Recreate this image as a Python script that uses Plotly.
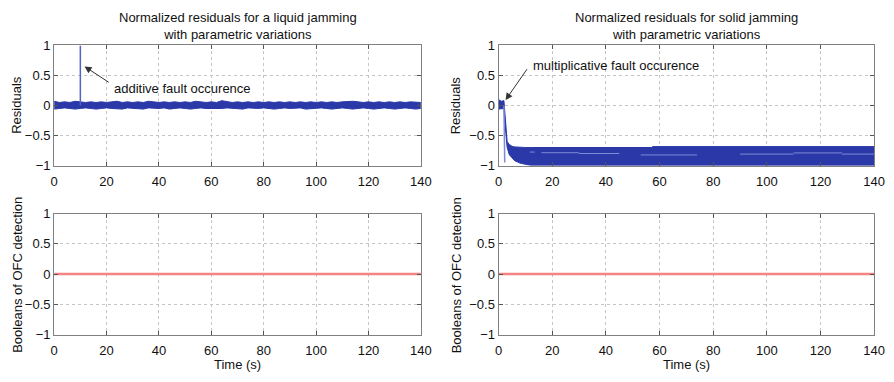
import plotly.graph_objects as go

# ---------------- data ----------------
time_range = [0, 140]

# liquid jamming: residual noise band envelope (sampled every 2 s)
liq_x = [0, 2, 4, 6, 8, 10, 12, 14, 16, 18,
         20, 22, 24, 26, 28, 30, 32, 34, 36, 38,
         40, 42, 44, 46, 48, 50, 52, 54, 56, 58,
         60, 62, 64, 66, 68, 70, 72, 74, 76, 78,
         80, 82, 84, 86, 88, 90, 92, 94, 96, 98,
         100, 102, 104, 106, 108, 110, 112, 114, 116, 118,
         120, 122, 124, 126, 128, 130, 132, 134, 136, 138,
         140]
liq_upper = [0.07, 0.05, 0.06, 0.05, 0.07, 0.06, 0.05, 0.06, 0.05, 0.06,
             0.05, 0.06, 0.07, 0.05, 0.06, 0.05, 0.06, 0.05, 0.07, 0.06,
             0.05, 0.06, 0.05, 0.06, 0.05, 0.06, 0.05, 0.07, 0.06, 0.05,
             0.06, 0.05, 0.08, 0.06, 0.05, 0.06, 0.05, 0.06, 0.05, 0.06,
             0.05, 0.06, 0.05, 0.06, 0.05, 0.06, 0.05, 0.06, 0.05, 0.06,
             0.05, 0.06, 0.05, 0.06, 0.05, 0.06, 0.07, 0.07, 0.06, 0.05,
             0.06, 0.05, 0.06, 0.05, 0.06, 0.05, 0.06, 0.05, 0.06, 0.05,
             0.05]
liq_lower = [-0.06, -0.05, -0.04, -0.05, -0.06, -0.05, -0.04, -0.05, -0.06, -0.05,
             -0.04, -0.05, -0.05, -0.06, -0.04, -0.05, -0.05, -0.06, -0.04, -0.05,
             -0.05, -0.04, -0.06, -0.05, -0.04, -0.05, -0.06, -0.05, -0.04, -0.05,
             -0.05, -0.06, -0.05, -0.04, -0.05, -0.05, -0.06, -0.04, -0.05, -0.05,
             -0.04, -0.05, -0.06, -0.05, -0.04, -0.05, -0.05, -0.04, -0.06, -0.05,
             -0.05, -0.04, -0.05, -0.06, -0.05, -0.04, -0.05, -0.06, -0.05, -0.04,
             -0.05, -0.06, -0.05, -0.04, -0.05, -0.06, -0.05, -0.04, -0.05, -0.06,
             -0.05]
liq_spike_x = [10, 10]
liq_spike_y = [0, 1]

# solid jamming: envelope of the residual family
sol_x = [0, 1, 2, 2.4, 2.8, 3.2, 4, 5, 6, 8, 10, 12, 57, 57.5, 140]
sol_upper = [0.1, 0.07, 0.08, -0.2, -0.5, -0.6, -0.65, -0.68, -0.69, -0.7,
             -0.7, -0.7, -0.7, -0.685, -0.685]
sol_lower = [-0.06, -0.05, -0.05, -0.3, -0.55, -0.7, -0.82, -0.88, -0.92, -0.96,
             -0.98, -1.0, -1.0, -1.0, -1.0]
sol_spike_x = [2.0, 2.3]
sol_spike_y = [0.0, -0.95]
# lighter inner traces visible inside the band: (x start, x end, level)
sol_inner = [(11.7, 13.5, -0.776), (16, 30, -0.787), (30, 45, -0.80),
             (53, 74, -0.824), (90, 110, -0.81), (110, 128, -0.79),
             (128, 140, -0.81)]

# OFC detection booleans
ofc_x = [0, 140]
ofc_liq = [0, 0]
ofc_sol = [0, 0]

y_ticks = [-1, -0.5, 0, 0.5, 1]
x_ticks = [0, 20, 40, 60, 80, 100, 120, 140]

# ---------------- figure ----------------
W, H = 894, 382
BAND = "#2a38a8"
LIGHT = "#7d8ad6"
RED = "#f48282"
FONT = "Liberation Sans, Arial, sans-serif"
FS = 13

fig = go.Figure()

# top-left
fig.add_trace(go.Scatter(x=liq_x, y=liq_upper, mode="lines",
                         line=dict(color=BAND, width=1), xaxis="x", yaxis="y",
                         showlegend=False, hoverinfo="skip"))
fig.add_trace(go.Scatter(x=liq_x, y=liq_lower, mode="lines", fill="tonexty",
                         fillcolor=BAND, line=dict(color=BAND, width=1),
                         xaxis="x", yaxis="y", showlegend=False, hoverinfo="skip"))
fig.add_trace(go.Scatter(x=liq_spike_x, y=liq_spike_y, mode="lines",
                         line=dict(color="#5262c8", width=1.5), xaxis="x", yaxis="y",
                         showlegend=False))

# top-right
fig.add_trace(go.Scatter(x=sol_x, y=sol_upper, mode="lines",
                         line=dict(color=BAND, width=1), xaxis="x2", yaxis="y2",
                         showlegend=False, hoverinfo="skip"))
fig.add_trace(go.Scatter(x=sol_x, y=sol_lower, mode="lines", fill="tonexty",
                         fillcolor=BAND, line=dict(color=BAND, width=1),
                         xaxis="x2", yaxis="y2", showlegend=False, hoverinfo="skip"))
for x0, x1, lv in sol_inner:
    fig.add_trace(go.Scatter(x=[x0, x1], y=[lv, lv], mode="lines",
                             line=dict(color=LIGHT, width=1), xaxis="x2", yaxis="y2",
                             showlegend=False, hoverinfo="skip"))
fig.add_trace(go.Scatter(x=sol_spike_x, y=sol_spike_y, mode="lines",
                         line=dict(color=LIGHT, width=1.5), xaxis="x2", yaxis="y2",
                         showlegend=False))

# bottom
fig.add_trace(go.Scatter(x=ofc_x, y=ofc_liq, mode="lines",
                         line=dict(color=RED, width=2.5), xaxis="x3", yaxis="y3",
                         showlegend=False))
fig.add_trace(go.Scatter(x=ofc_x, y=ofc_sol, mode="lines",
                         line=dict(color=RED, width=2.5), xaxis="x4", yaxis="y4",
                         showlegend=False))

def px_x(p):
    return p / W

def px_y(p):
    return 1 - p / H

L_dom = [px_x(51), px_x(424)]
R_dom = [px_x(503), px_x(885)]
T_dom = [px_y(165), px_y(40)]
B_dom = [px_y(341), px_y(215)]

axis_common = dict(
    showline=True, linecolor="#808080", linewidth=1, mirror="ticks",
    ticks="inside", ticklen=4, tickcolor="#555555",
    showgrid=True, gridcolor="#c4c4c4", griddash="dot", gridwidth=1,
    zeroline=False, tickfont=dict(family=FONT, size=FS, color="#111111"),
)

def xa(dom, anchor):
    return dict(axis_common, domain=dom, anchor=anchor, range=time_range,
                tickvals=x_ticks, ticktext=[str(v) for v in x_ticks],
                ticklabelstandoff=4)

def ya(dom, anchor):
    return dict(axis_common, domain=dom, anchor=anchor, range=[-1, 1],
                tickvals=y_ticks,
                ticktext=["\u22121", "\u22120.5", "0", "0.5", "1"])

fig.update_layout(
    width=W, height=H, margin=dict(l=0, r=0, t=0, b=0),
    paper_bgcolor="white", plot_bgcolor="white",
    font=dict(family=FONT, size=FS, color="#111111"),
    xaxis=xa(L_dom, "y"), yaxis=ya(T_dom, "x"),
    xaxis2=xa(R_dom, "y2"), yaxis2=ya(T_dom, "x2"),
    xaxis3=xa(L_dom, "y3"), yaxis3=ya(B_dom, "x3"),
    xaxis4=xa(R_dom, "y4"), yaxis4=ya(B_dom, "x4"),
)

ann = []
# titles
ann.append(dict(text="Normalized residuals for a liquid jamming<br>with parametric variations",
                x=px_x(237.5), y=px_y(19.5), xref="paper", yref="paper",
                showarrow=False, xanchor="center", yanchor="middle",
                font=dict(family=FONT, size=FS)))
ann.append(dict(text="Normalized residuals for solid jamming<br>with parametric variations",
                x=px_x(694), y=px_y(19.5), xref="paper", yref="paper",
                showarrow=False, xanchor="center", yanchor="middle",
                font=dict(family=FONT, size=FS)))
# axis titles
for yc, txt in [(102, "Residuals"), (279, "Booleans of OFC detection")]:
    for xc in (13, 460):
        ann.append(dict(text=txt, x=px_x(xc), y=px_y(yc), xref="paper", yref="paper",
                        showarrow=False, textangle=-90, xanchor="center", yanchor="middle",
                        font=dict(family=FONT, size=FS)))
for xc in (237.5, 694):
    ann.append(dict(text="Time (s)", x=px_x(xc), y=px_y(372), xref="paper", yref="paper",
                    showarrow=False, xanchor="center", yanchor="middle",
                    font=dict(family=FONT, size=FS)))
# fault annotations
ann.append(dict(text="", x=11.6, y=0.65, ax=21.4, ay=0.37, xref="x", yref="y",
                axref="x", ayref="y", showarrow=True, arrowhead=2, arrowsize=1.4,
                arrowwidth=1, arrowcolor="#333333"))
ann.append(dict(text="additive fault occurence", x=22, y=0.28, xref="x", yref="y",
                showarrow=False, xanchor="left", yanchor="middle",
                font=dict(family=FONT, size=FS)))
ann.append(dict(text="", x=2.6, y=0.09, ax=11, ay=0.63, xref="x2", yref="y2",
                axref="x2", ayref="y2", showarrow=True, arrowhead=2, arrowsize=1.4,
                arrowwidth=1, arrowcolor="#333333"))
ann.append(dict(text="multiplicative fault occurence", x=12.2, y=0.66, xref="x2", yref="y2",
                showarrow=False, xanchor="left", yanchor="middle",
                font=dict(family=FONT, size=FS)))
fig.update_layout(annotations=ann)

fig.write_html("out.html")
